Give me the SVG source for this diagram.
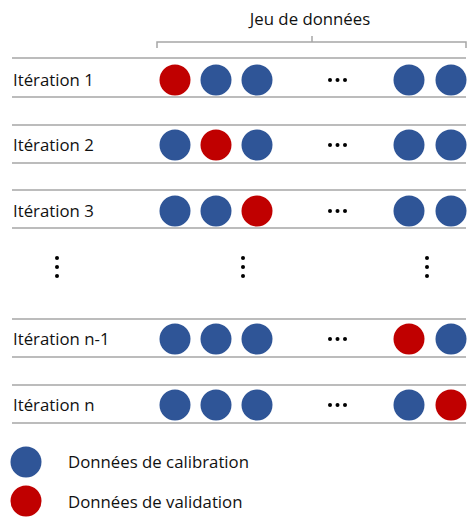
<svg xmlns="http://www.w3.org/2000/svg" width="474" height="525" viewBox="0 0 474 525">
<style>
.t{font-family:"Open Sans","Liberation Sans",sans-serif;font-size:16.8px;fill:#111}
.b{fill:#2F5597}
.r{fill:#C00000}
.ln{stroke:#a6a6a6;stroke-width:1.5;fill:none}
.d{fill:#000}
</style>
<rect width="474" height="525" fill="#fff"/>
<g id="header">
<text class="t" x="310" y="25" text-anchor="middle">Jeu de données</text>
<path class="ln" d="M157,48 L157,42 L466,42 L466,48 M312,42 L312,36" stroke="#999" stroke-width="1.2"/>
</g>
<g id="connectors">
<line class="ln" x1="12" y1="58" x2="466" y2="58"/>
<line class="ln" x1="12" y1="97" x2="466" y2="97"/>
<line class="ln" x1="12" y1="125" x2="466" y2="125"/>
<line class="ln" x1="12" y1="163" x2="466" y2="163"/>
<line class="ln" x1="12" y1="190" x2="466" y2="190"/>
<line class="ln" x1="12" y1="228" x2="466" y2="228"/>
<line class="ln" x1="12" y1="319" x2="466" y2="319"/>
<line class="ln" x1="12" y1="357" x2="466" y2="357"/>
<line class="ln" x1="12" y1="385" x2="466" y2="385"/>
<line class="ln" x1="12" y1="423" x2="466" y2="423"/>
</g>
<g id="row1">
<text class="t" x="13" y="86">Itération 1</text>
<circle class="r" cx="175" cy="80" r="15.5"/><circle class="b" cx="216" cy="80" r="15.5"/><circle class="b" cx="257" cy="80" r="15.5"/>
<circle class="d" cx="330" cy="80" r="2"/><circle class="d" cx="337.5" cy="80" r="2"/><circle class="d" cx="345" cy="80" r="2"/>
<circle class="b" cx="409" cy="80" r="15.5"/><circle class="b" cx="451" cy="80" r="15.5"/>
</g>
<g id="row2">
<text class="t" x="13" y="151">Itération 2</text>
<circle class="b" cx="175" cy="145" r="15.5"/><circle class="r" cx="216" cy="145" r="15.5"/><circle class="b" cx="257" cy="145" r="15.5"/>
<circle class="d" cx="330" cy="145" r="2"/><circle class="d" cx="337.5" cy="145" r="2"/><circle class="d" cx="345" cy="145" r="2"/>
<circle class="b" cx="409" cy="145" r="15.5"/><circle class="b" cx="451" cy="145" r="15.5"/>
</g>
<g id="row3">
<text class="t" x="13" y="217">Itération 3</text>
<circle class="b" cx="175" cy="211" r="15.5"/><circle class="b" cx="216" cy="211" r="15.5"/><circle class="r" cx="257" cy="211" r="15.5"/>
<circle class="d" cx="330" cy="211" r="2"/><circle class="d" cx="337.5" cy="211" r="2"/><circle class="d" cx="345" cy="211" r="2"/>
<circle class="b" cx="409" cy="211" r="15.5"/><circle class="b" cx="451" cy="211" r="15.5"/>
</g>
<g id="vdots">
<circle class="d" cx="57" cy="258" r="2"/><circle class="d" cx="57" cy="267" r="2"/><circle class="d" cx="57" cy="276" r="2"/>
<circle class="d" cx="243" cy="258" r="2"/><circle class="d" cx="243" cy="267" r="2"/><circle class="d" cx="243" cy="276" r="2"/>
<circle class="d" cx="427" cy="258" r="2"/><circle class="d" cx="427" cy="267" r="2"/><circle class="d" cx="427" cy="276" r="2"/>
</g>
<g id="rown1">
<text class="t" x="13" y="345">Itération n-1</text>
<circle class="b" cx="175" cy="339" r="15.5"/><circle class="b" cx="216" cy="339" r="15.5"/><circle class="b" cx="257" cy="339" r="15.5"/>
<circle class="d" cx="330" cy="339" r="2"/><circle class="d" cx="337.5" cy="339" r="2"/><circle class="d" cx="345" cy="339" r="2"/>
<circle class="r" cx="409" cy="339" r="15.5"/><circle class="b" cx="451" cy="339" r="15.5"/>
</g>
<g id="rown">
<text class="t" x="13" y="411">Itération n</text>
<circle class="b" cx="175" cy="405" r="15.5"/><circle class="b" cx="216" cy="405" r="15.5"/><circle class="b" cx="257" cy="405" r="15.5"/>
<circle class="d" cx="330" cy="405" r="2"/><circle class="d" cx="337.5" cy="405" r="2"/><circle class="d" cx="345" cy="405" r="2"/>
<circle class="b" cx="409" cy="405" r="15.5"/><circle class="r" cx="451" cy="405" r="15.5"/>
</g>
<g id="legend">
<circle class="b" cx="26" cy="462" r="15.5"/>
<text class="t" x="68" y="468">Données de calibration</text>
<circle class="r" cx="26" cy="501" r="15.5"/>
<text class="t" x="68" y="508">Données de validation</text>
</g>
</svg>
